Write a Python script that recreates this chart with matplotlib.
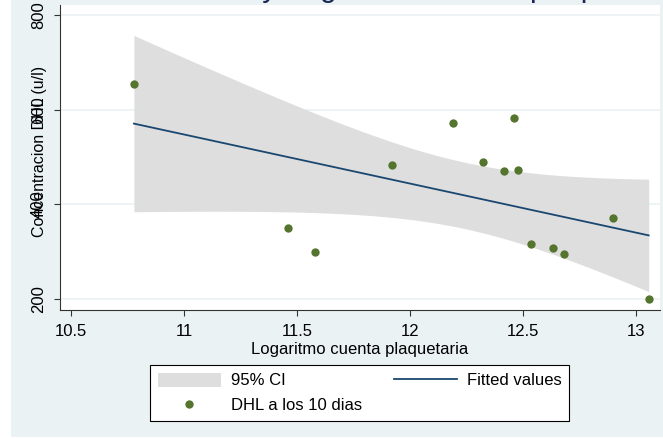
import numpy as np
import matplotlib
matplotlib.use('Agg')
import matplotlib.pyplot as plt
from matplotlib.patches import Rectangle, Patch
from matplotlib.lines import Line2D

plt.rcParams['font.family'] = ['Liberation Sans', 'DejaVu Sans']

# ---- data ----
log_platelets = [10.778, 11.461, 11.580, 11.918, 12.190, 12.321, 12.414,
                 12.461, 12.477, 12.534, 12.632, 12.680, 12.899, 13.056]
dhl_10_days = [654, 349.6, 300, 484.3, 573, 489, 470,
               583, 472.3, 316.4, 308.6, 295.2, 370.8, 199.4]
x_ticks = [10.5, 11, 11.5, 12, 12.5, 13]
x_tick_labels = ['10.5', '11', '11.5', '12', '12.5', '13']
y_ticks = [200, 400, 600, 800]
y_tick_labels = ['200', '400', '600', '800']

title_text = 'Concentracion DHL y Logaritmo cuenta plaquetaria'
x_label = 'Logaritmo cuenta plaquetaria'
y_label = 'Concentracion DHL (u/l)'
legend_labels = ['95% CI', 'DHL a los 10 dias', 'Fitted values']

# ---- linear fit with 95% CI (as Stata lfitci) ----
x = np.asarray(log_platelets)
y = np.asarray(dhl_10_days)
n = len(x)
slope, intercept = np.polyfit(x, y, 1)
resid = y - (slope * x + intercept)
s = np.sqrt(np.sum(resid ** 2) / (n - 2))
sxx = np.sum((x - x.mean()) ** 2)
t_crit = 2.179  # t(0.975, df=12)
xg = np.linspace(x.min(), x.max(), 200)
yg = slope * xg + intercept
se = s * np.sqrt(1.0 / n + (xg - x.mean()) ** 2 / sxx)
lo, hi = yg - t_crit * se, yg + t_crit * se

# ---- figure ----
W, H = 663, 438
fig = plt.figure(figsize=(W / 100, H / 100), dpi=100, facecolor='white')
bg = '#eaf2f3'
fig.patches.append(Rectangle((11 / W, 1 / H), 1 - 11 / W, 1 - 1 / H,
                             transform=fig.transFigure, facecolor=bg,
                             edgecolor='none', zorder=-10))

ax = fig.add_axes([60 / W, 1 - 310 / H, 600 / W, 305 / H])
ax.set_facecolor('white')

ci_col = '#dedede'
line_col = '#1a476f'
dot_col = '#55752f'

ax.fill_between(xg, lo, hi, color=ci_col, linewidth=0, zorder=2)
ax.plot(xg, yg, color=line_col, lw=1.3, zorder=3)
ax.plot(x, y, 'o', color=dot_col, markersize=6, markeredgewidth=0, zorder=4)

ax.set_xlim(10.451, 13.106)
ax.set_ylim(176.7, 822)
ax.set_xticks(x_ticks)
ax.set_xticklabels(x_tick_labels)
ax.set_yticks(y_ticks)
ax.set_yticklabels(y_tick_labels, rotation=90, va='center')

ax.grid(axis='y', color=bg, lw=1.2, zorder=1)
ax.grid(axis='x', visible=False)
ax.set_axisbelow(True)
for side in ['top', 'right']:
    ax.spines[side].set_visible(False)
for side in ['left', 'bottom']:
    ax.spines[side].set_color('#333333')
    ax.spines[side].set_linewidth(0.8)
ax.tick_params(axis='both', direction='out', length=4, width=0.8,
               color='#333333', labelsize=12, labelcolor='black')
ax.tick_params(axis='x', pad=6)
ax.tick_params(axis='y', pad=6)

ax.set_xlabel(x_label, fontsize=12, labelpad=2)
fig.text(40 / W, 1 - 151 / H, y_label, rotation=90, ha='center', va='center',
         fontsize=11.5)

# title mostly cut off at the top of the picture
fig.text(0.505, 1 + 3.5 / H, title_text, ha='center', va='baseline',
         fontsize=22, color='#1a2a55')

handles = [Patch(facecolor=ci_col, edgecolor='none'),
           Line2D([], [], marker='o', ls='none', color=dot_col,
                  markersize=6, markeredgewidth=0),
           Line2D([], [], color=line_col, lw=1.3)]
leg = fig.legend(handles, legend_labels, ncol=2, loc='upper left',
                 bbox_to_anchor=(150 / W, 1 - 365 / H),
                 bbox_transform=fig.transFigure, borderaxespad=0,
                 frameon=True, fancybox=False, edgecolor='black',
                 facecolor='white', framealpha=1, fontsize=12,
                 handlelength=3.8, handleheight=0.95, handletextpad=0.6,
                 columnspacing=1.9, labelspacing=0.55, borderpad=0.45,
                 numpoints=1)
leg.get_frame().set_linewidth(0.8)

fig.savefig('out.png', dpi=100, facecolor='white')
